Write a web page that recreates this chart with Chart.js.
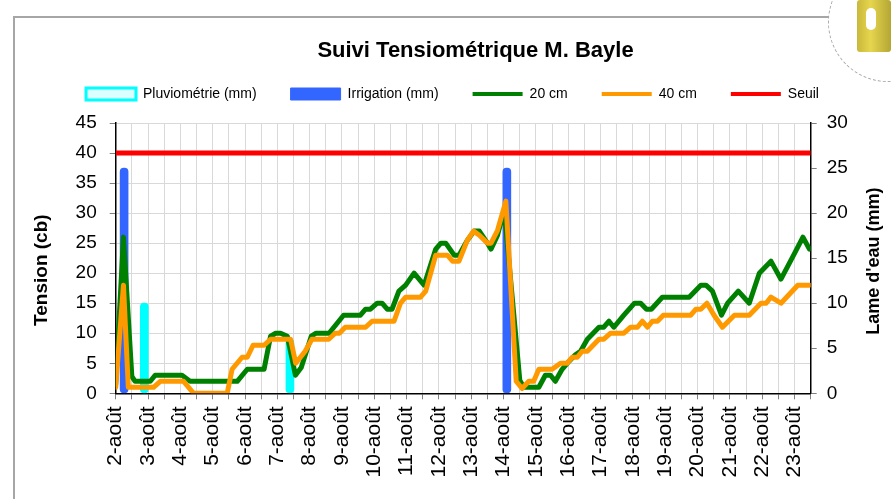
<!DOCTYPE html>
<html><head><meta charset="utf-8">
<script src="https://cdn.jsdelivr.net/npm/chart.js@4.4.1/dist/chart.umd.min.js"></script>
<style>
html,body{margin:0;padding:0;background:#fff;width:891px;height:499px;overflow:hidden;}
#wrap{position:relative;width:891px;height:499px;}
canvas{position:absolute;left:0;top:0;}
#frame{position:absolute;left:13px;top:16px;width:860px;height:520px;border-top:2px solid #a6a6a6;border-left:2px solid #a6a6a6;pointer-events:none;}
#logo{position:absolute;left:828px;top:-38px;width:118px;height:118px;border-radius:50%;border:1px dashed #aaa;background:#fff;pointer-events:none;}
#logo1{position:absolute;left:857px;top:0px;width:34px;height:52px;background:linear-gradient(90deg,#c9b83a,#e6d54e 40%,#b3a634);border-radius:3px;pointer-events:none;}
#logo2{position:absolute;left:866px;top:8px;width:10px;height:22px;background:#fff;border-radius:5px;pointer-events:none;}
</style></head><body>
<div id="wrap"><canvas id="c" width="891" height="499"></canvas><div id="frame"></div><div id="logo"></div><div id="logo1"></div><div id="logo2"></div></div>
<script>
// ---- data (x = days since 2-août 00:00) ----
const dayLabels = ['2-août','3-août','4-août','5-août','6-août','7-août','8-août','9-août','10-août','11-août','12-août','13-août','14-août','15-août','16-août','17-août','18-août','19-août','20-août','21-août','22-août','23-août'];

const t20 = [0,0.24,0.5,0.6,1.07,1.22,2.05,2.3,3.76,4.07,4.59,4.79,4.95,5.1,5.31,5.56,5.74,6.05,6.2,6.6,7.05,7.57,7.73,7.88,8.09,8.24,8.4,8.55,8.76,8.97,9.23,9.54,9.9,10.06,10.21,10.47,10.62,10.88,11.09,11.25,11.5,11.61,11.81,12.02,12.5,12.62,13.09,13.29,13.45,13.6,13.81,14.02,14.22,14.38,14.59,14.95,15.1,15.26,15.41,15.72,16.05,16.24,16.42,16.57,16.91,17.74,18.1,18.26,18.46,18.74,18.93,19.26,19.6,19.91,20.27,20.58,21.0,21.26,21.46];
const v20 = [1.5,26,2.8,2,2,3,3,2,2,4,4,9.5,10,10,9.5,3,4.3,9.5,10,10,13,13,14,14,15,15,14,14,17,18,20,18,24,25,25,23,23,25.5,27,27,25,24,26.3,30.5,2.2,1,1,3,3,2,4,5.3,6.4,7,9,11,11,12,11,13,15,15,14,14,16,16,18,18,17,13,15,17,15,20,22,19,23.3,26,24];

const t40 = [0,0.24,0.39,1.17,1.38,2.1,2.41,3.45,3.6,3.91,4.07,4.25,4.59,4.79,5.41,5.57,5.86,6.07,6.59,6.79,6.92,7.1,7.73,7.93,8.61,8.81,8.97,9.43,9.59,9.9,10.26,10.42,10.62,10.88,11.07,11.25,11.5,11.61,11.81,12.07,12.39,12.57,12.78,12.93,13.09,13.5,13.76,13.96,14.12,14.28,14.43,14.59,14.95,15.1,15.31,15.72,15.93,16.14,16.29,16.45,16.6,16.76,16.94,17.79,17.95,18.1,18.29,18.51,18.77,19.14,19.6,19.96,20.12,20.27,20.58,21.1,21.46];
const v40 = [1,18,1,1,2,2,0,0,4,6,6,8,8,9,9,5,7,9,9,10,10,11,11,12,12,15,16,16,17,23,23,22,22,25.5,27,26.3,25,25,27.1,32,2,0.8,2,2,4,4,5,5,6,6,7,7,9,9,10,10,11,11,12,11,12,12,13,13,14,14,15,13,11,13,13,15,15,16,15,18,18];

const pluvioDays = [0.885, 5.39];
const pluvioMm = [10, 6];
const irrigDays = [0.26, 12.1];
const irrigMm = [25, 25];
const seuilDays = [0, 21.5];
const seuilCb = [40, 40];

const leftTitle = 'Tension (cb)';
const rightTitle = "Lame d'eau (mm)";
// ---------------------------------------------

const FONT = '"Liberation Sans", Arial, Helvetica, sans-serif';
const pts = (xs, ys) => xs.map((x, i) => ({x: x, y: ys[i]}));

const legendStyles = [
  {pointStyle: 'rect', fillStyle: '#d9ffff', strokeStyle: '#00ffff', lineWidth: 3},
  {pointStyle: 'rect', fillStyle: '#3366ff', strokeStyle: '#3366ff', lineWidth: 1},
  {pointStyle: 'line', fillStyle: '#008000', strokeStyle: '#008000', lineWidth: 4},
  {pointStyle: 'line', fillStyle: '#ff9900', strokeStyle: '#ff9900', lineWidth: 4},
  {pointStyle: 'line', fillStyle: '#ff0000', strokeStyle: '#ff0000', lineWidth: 4}
];

const layoutTweaks = {
  id: 'layoutTweaks',
  beforeInit(chart) {
    const leg = chart.legend;
    const orig = leg.fit;
    leg.fit = function () { orig.call(this); this.height += 12; };
  },
  afterLayout(chart) {
    chart.legend.left += 7; chart.legend.right += 7;
    chart.titleBlock.left += 30; chart.titleBlock.right += 30;
  }
};

const axisTitles = {
  id: 'axisTitles',
  afterDraw(chart) {
    const ctx = chart.ctx;
    const a = chart.chartArea;
    ctx.save();
    ctx.fillStyle = '#000';
    ctx.textAlign = 'center';
    ctx.textBaseline = 'middle';
    ctx.font = 'bold 19px ' + FONT;
    ctx.translate(42, (a.top + a.bottom) / 2 + 12);
    ctx.rotate(-Math.PI / 2);
    ctx.fillText(leftTitle, 0, 0);
    ctx.restore();
    ctx.save();
    ctx.fillStyle = '#000';
    ctx.textAlign = 'center';
    ctx.textBaseline = 'middle';
    ctx.font = 'bold 18px ' + FONT;
    ctx.translate(a.right + 63, (a.top + a.bottom) / 2 + 3);
    ctx.rotate(-Math.PI / 2);
    ctx.fillText(rightTitle, 0, 0);
    ctx.restore();
  }
};

new Chart(document.getElementById('c'), {
  type: 'line',
  data: {
    datasets: [
      {type: 'bar', label: 'Pluviométrie (mm)', data: pts(pluvioDays, pluvioMm), yAxisID: 'y2',
       backgroundColor: '#00ffff', borderWidth: 0, barThickness: 8, grouped: false, borderRadius: 4, borderSkipped: false, order: 5},
      {type: 'bar', label: 'Irrigation (mm)', data: pts(irrigDays, irrigMm), yAxisID: 'y2',
       backgroundColor: '#3366ff', borderWidth: 0, barThickness: 8, grouped: false, borderRadius: 4, borderSkipped: false, order: 4},
      {label: '20 cm', data: pts(t20, v20), yAxisID: 'y', borderColor: '#008000', backgroundColor: '#008000',
       borderWidth: 5, pointRadius: 0, tension: 0, borderJoinStyle: 'round', borderCapStyle: 'round', order: 3},
      {label: '40 cm', data: pts(t40, v40), yAxisID: 'y', borderColor: '#ff9900', backgroundColor: '#ff9900',
       borderWidth: 5, pointRadius: 0, tension: 0, borderJoinStyle: 'round', borderCapStyle: 'round', order: 2},
      {label: 'Seuil', data: pts(seuilDays, seuilCb), yAxisID: 'y', borderColor: '#ff0000', backgroundColor: '#ff0000',
       borderWidth: 5, pointRadius: 0, tension: 0, order: 1}
    ]
  },
  options: {
    responsive: false,
    animation: false,
    devicePixelRatio: 1,
    layout: {padding: {top: 0, left: 0, right: 0, bottom: 0}},
    plugins: {
      tooltip: {enabled: false},
      title: {display: true, text: 'Suivi Tensiométrique M. Bayle', color: '#000',
              font: {family: FONT, size: 22, weight: 'bold'}, padding: {top: 37.8, bottom: -11.2}},
      legend: {
        display: true, position: 'top',
        labels: {
          usePointStyle: true, pointStyleWidth: 50, boxHeight: 12, padding: 34, color: '#000',
          font: {family: FONT, size: 14},
          sort: (a, b) => a.datasetIndex - b.datasetIndex,
          generateLabels(chart) {
            const items = Chart.defaults.plugins.legend.labels.generateLabels(chart);
            items.forEach(it => Object.assign(it, legendStyles[it.datasetIndex]));
            return items;
          }
        }
      }
    },
    scales: {
      x: {
        type: 'linear', min: 0, max: 21.5, offset: false,
        grid: {color: '#d9d9d9', lineWidth: 1, tickLength: 6, tickColor: '#808080', offset: false},
        border: {color: '#000', width: 1.5},
        ticks: {stepSize: 0.5, autoSkip: false, minRotation: 90, maxRotation: 90, padding: 7, color: '#000',
                font: {family: FONT, size: 21},
                callback: (v) => Number.isInteger(v) ? (dayLabels[v] || '') : ''},
        afterFit(s) { s.height = 105.7; }
      },
      y: {
        position: 'left', min: 0, max: 45,
        grid: {color: '#d9d9d9', lineWidth: 1, tickLength: 6, tickColor: '#808080'},
        border: {color: '#000', width: 1.5},
        ticks: {stepSize: 5, padding: 13, color: '#000', font: {family: FONT, size: 19}},
        afterFit(s) { s.width = 115.7; }
      },
      y2: {
        position: 'right', min: 0, max: 30,
        grid: {drawOnChartArea: false, tickLength: 6, tickColor: '#808080'},
        border: {color: '#000', width: 1.5},
        ticks: {stepSize: 5, padding: 10, color: '#000', font: {family: FONT, size: 19}},
        afterFit(s) { s.width = 80.3; }
      }
    }
  },
  plugins: [layoutTweaks, axisTitles]
});
</script>
</body></html>
